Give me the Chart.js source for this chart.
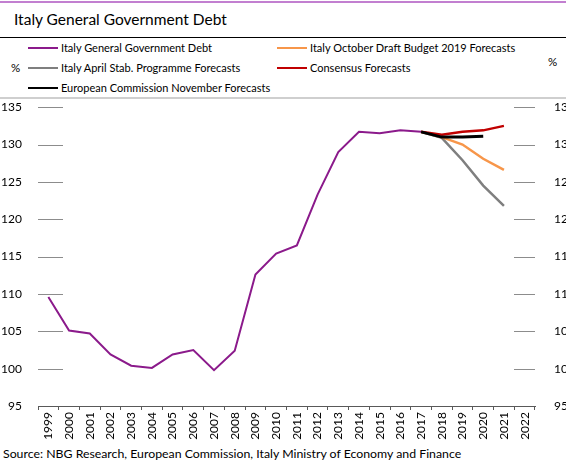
<!DOCTYPE html>
<html>
<head>
<meta charset="utf-8">
<script src="https://cdn.jsdelivr.net/npm/chart.js@4"></script>
<style>
  html, body { margin: 0; padding: 0; background: #fff; }
  body { width: 566px; height: 461px; position: relative; overflow: hidden; font-family: Lato, "Noto Sans", sans-serif; color: #000; }
  #topline { position: absolute; left: 0; top: 1px; width: 566px; height: 2px; background: #c27fd0; }
  #title { position: absolute; left: 14px; top: 10px; font-size: 15.5px; white-space: nowrap; }
  #titleline { position: absolute; left: 0; top: 37px; width: 566px; height: 1px; background: #000; }
  #legend { position: absolute; left: 0; top: 38px; width: 566px; height: 60px; font-size: 11px; }
  .item { position: absolute; white-space: nowrap; line-height: 14px; }
  .sw { display: inline-block; width: 30px; height: 2px; vertical-align: middle; margin-right: 3px; position: relative; top: -1px; }
  .pct { position: absolute; font-size: 11.5px; }
  #legline { position: absolute; left: 0; top: 97px; width: 566px; height: 2px; background: #cfcfcf; }
  #wrap { position: absolute; left: 0; top: 89px; width: 566px; height: 356px; }
  #source { position: absolute; left: 3px; top: 446px; font-size: 12.3px; white-space: nowrap; }
</style>
</head>
<body>
<div id="topline"></div>
<div id="title">Italy General Government Debt</div>
<div id="titleline"></div>
<div id="legend"></div>
<div id="legline"></div>
<div id="wrap"><canvas id="chart"></canvas></div>
<div id="source">Source: NBG Research, European Commission, Italy Ministry of Economy and Finance</div>

<script>
/* ---------- Datos ---------- */
const years = ["1999","2000","2001","2002","2003","2004","2005","2006","2007","2008","2009","2010",
               "2011","2012","2013","2014","2015","2016","2017","2018","2019","2020","2021","2022"];

const debt = [109.6,105.1,104.7,101.9,100.4,100.1,101.9,102.5,99.8,102.4,112.6,115.4,
              116.5,123.3,129.0,131.7,131.5,131.9,131.7,null,null,null,null,null];

// forecasts start at 2017
const stabProgramme = [null,null,null,null,null,null,null,null,null,null,null,null,
                       null,null,null,null,null,null,131.7,130.9,127.9,124.5,121.8,null];
const draftBudget   = [null,null,null,null,null,null,null,null,null,null,null,null,
                       null,null,null,null,null,null,131.7,131.0,130.0,128.1,126.6,null];
const consensus     = [null,null,null,null,null,null,null,null,null,null,null,null,
                       null,null,null,null,null,null,131.7,131.3,131.7,131.9,132.5,null];
const commission    = [null,null,null,null,null,null,null,null,null,null,null,null,
                       null,null,null,null,null,null,131.7,131.0,131.0,131.1,null,null];

const yTicks = [95,100,105,110,115,120,125,130,135];

const series = [
  { label: "Italy General Government Debt",              data: debt,          color: "#8b1a8b", width: 2 },
  { label: "Italy October Draft Budget 2019 Forecasts",  data: draftBudget,   color: "#f7964a", width: 2.5 },
  { label: "Italy April Stab. Programme Forecasts",      data: stabProgramme, color: "#7f7f7f", width: 2.5 },
  { label: "Consensus Forecasts",                        data: consensus,     color: "#c00000", width: 2.5 },
  { label: "European Commission November Forecasts",     data: commission,    color: "#000000", width: 3 }
];

/* ---------- Leyenda ---------- */
const legendPos = [[28, 3], [277, 3], [28, 23], [277, 23], [28, 43]];
const legend = document.getElementById("legend");
series.forEach((s, i) => {
  const d = document.createElement("div");
  d.className = "item";
  d.style.left = legendPos[i][0] + "px";
  d.style.top  = legendPos[i][1] + "px";
  d.innerHTML = `<span class="sw" style="background:${s.color}"></span>${s.label}`;
  legend.appendChild(d);
});
const p1 = document.createElement("div");
p1.className = "pct"; p1.style.left = "11px"; p1.style.top = "23px"; p1.textContent = "%";
legend.appendChild(p1);
const p2 = document.createElement("div");
p2.className = "pct"; p2.style.left = "548px"; p2.style.top = "17px"; p2.textContent = "%";
legend.appendChild(p2);

/* ---------- Marcas cortas en los ejes ---------- */
const stubs = {
  id: "stubs",
  afterDraw(chart) {
    const ctx = chart.ctx;
    const y = chart.scales.y;
    const a = chart.chartArea;
    ctx.save();
    ctx.strokeStyle = "#8c8c8c";
    ctx.lineWidth = 1;
    yTicks.forEach(v => {
      if (v === 95) return;
      const py = Math.round(y.getPixelForValue(v)) + 0.5;
      ctx.beginPath();
      ctx.moveTo(a.left, py); ctx.lineTo(a.left + 25, py);
      ctx.moveTo(a.right - 21, py); ctx.lineTo(a.right, py);
      ctx.stroke();
    });
    ctx.restore();
  }
};

/* ---------- Grafico ---------- */
const draworder = [0, 2, 1, 3, 4];
const font = { family: "Lato, 'Noto Sans', sans-serif", size: 12 };

new Chart(document.getElementById("chart"), {
  type: "line",
  data: {
    labels: years,
    datasets: series.map((s, i) => ({
      label: s.label,
      data: s.data,
      borderColor: s.color,
      backgroundColor: s.color,
      borderWidth: s.width,
      pointRadius: 0,
      tension: 0,
      spanGaps: false,
      order: -draworder.indexOf(i)
    }))
  },
  options: {
    responsive: true,
    maintainAspectRatio: false,
    animation: false,
    layout: { padding: { top: 9, left: 0, right: 0, bottom: 0 } },
    plugins: { legend: { display: false }, tooltip: { enabled: false } },
    scales: {
      x: {
        offset: true,
        grid: { display: true, drawOnChartArea: false, offset: true, tickLength: 4, color: "#595959" },
        border: { color: "#595959", width: 1 },
        ticks: { color: "#000", font: font, minRotation: 90, maxRotation: 90, autoSkip: false, padding: 2 },
        afterFit(s) { s.height = 39; }
      },
      y: {
        position: "left",
        min: 95, max: 135,
        grid: { display: false },
        border: { display: false },
        ticks: { stepSize: 5, color: "#000", font: font, padding: 8 },
        afterFit(s) { s.width = 38; }
      },
      y2: {
        position: "right",
        min: 95, max: 135,
        grid: { display: false },
        border: { display: false },
        ticks: { stepSize: 5, color: "#000", font: font, padding: 11 },
        afterFit(s) { s.width = 31; }
      }
    }
  },
  plugins: [stubs]
});
</script>
</body>
</html>
